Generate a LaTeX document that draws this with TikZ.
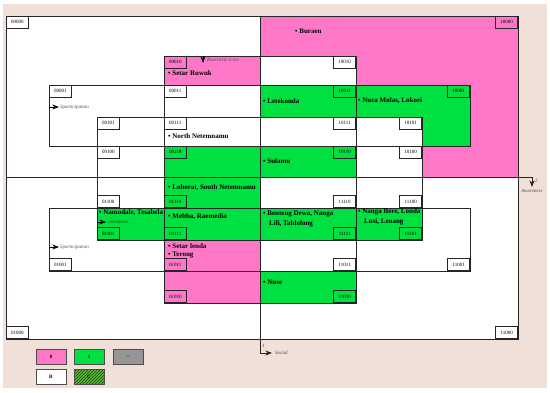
\documentclass[tikz,border=0pt]{standalone}
\usepackage{fontspec}
\setmainfont{Liberation Serif}
\usetikzlibrary{arrows.meta, patterns}
\definecolor{pinkc}{RGB}{255,120,200}
\definecolor{greenc}{RGB}{0,224,64}
\definecolor{olivec}{RGB}{100,175,60}
\definecolor{beigec}{RGB}{240,224,216}
\definecolor{grayc}{RGB}{150,150,150}

\begin{document}
\begin{tikzpicture}[x=1pt, y=-1pt, >=Stealth,
    band/.style={draw=black!85, line width=0.8pt},
    code/.style={draw=black!85, line width=0.6pt, inner sep=0pt, minimum width=22pt, minimum height=12pt, font=\fontsize{5}{6}\selectfont},
    town/.style={anchor=west, inner sep=0pt, font=\fontsize{7}{10}\selectfont\bfseries},
    axislabel/.style={inner sep=0pt, text=black!70, font=\fontsize{5}{6}\selectfont\itshape},
    key/.style={draw=black!70, line width=1pt, minimum width=30pt, minimum height=15pt, inner sep=0pt, font=\fontsize{5}{6}\selectfont\bfseries}]
    % Background and margins
    \useasboundingbox (0,0) rectangle (550,392);
    \fill[white] (0,0) rectangle (550,392);
    \fill[beigec] (3,4) rectangle (547,388);
    \fill[white] (6,16) rectangle (518,339);

    % Fill the coloured cells
    \fill[pinkc] (260,16) rectangle (518,177);
    \fill[greenc] (260,85) rectangle (470,146);
    \fill[white] (260,56) rectangle (356,85);
    \fill[white] (260,117) rectangle (422,146);
    \fill[white] (356,146) rectangle (422,177);
    \fill[greenc] (260,146) rectangle (356,177);
    \fill[pinkc] (164,56) rectangle (260,85);
    \fill[greenc] (164,146) rectangle (260,240);
    \fill[greenc] (97,208) rectangle (164,240);
    \fill[pinkc] (164,240) rectangle (260,303);
    \fill[greenc] (260,208) rectangle (422,240);
    \fill[greenc] (260,271) rectangle (356,303);

    % Draw the quadrants and the bands
    \draw[band] (6,16) rectangle (518,339);
    \draw[band] (164,56) rectangle (356,303);
    \draw[band] (97,117) rectangle (422,240);
    \draw[band] (49,85) rectangle (470,146);
    \draw[band] (49,208) rectangle (470,271);

    % Draw the axes with their arrows
    \coordinate (socA) at (260,16);
    \coordinate (socB) at (260,353);
    \coordinate (socC) at (272,353);
    \draw[band, ->] (socA) -- (socB) -- (socC);
    \node[axislabel, anchor=west] (social) at (275,353) {Social};
    \node[axislabel, anchor=south west] (socnum) at (262,348) {1};
    \coordinate (awaA) at (6,177);
    \coordinate (awaB) at (532,177);
    \coordinate (awaC) at (532,187);
    \draw[band, ->] (awaA) -- (awaB) -- (awaC);
    \node[axislabel, anchor=north] (awareness) at (532,189) {Awareness};
    \node[axislabel, anchor=west] (awanum) at (535,181) {2};

    % Arrows of the other bands
    \coordinate (reaA) at (203,56);
    \coordinate (reaB) at (203,63);
    \draw[thick, ->] (reaA) -- (reaB);
    \node[axislabel, anchor=west] (reactivity) at (207,60) {Reactivity score};
    \coordinate (parA) at (49,107);
    \coordinate (parB) at (59,107);
    \draw[thick, ->] (parA) -- (parB);
    \node[axislabel, anchor=west] (partop) at (60,107) {5participation};
    \coordinate (parC) at (49,247);
    \coordinate (parD) at (59,247);
    \draw[thick, ->] (parC) -- (parD);
    \node[axislabel, anchor=west] (parbot) at (60,247) {5participation};
    \coordinate (resA) at (97,222);
    \coordinate (resB) at (106,222);
    \draw[thick, ->] (resA) -- (resB);
    \node[axislabel, anchor=west, text=green!40!black] (resistance) at (107,222) {Resistance};

    % Code of every cell
    \foreach \c/\x/\y/\a/\f in {
        00000/6/16/north west/white, 00010/164/56/north west/pinkc,
        00001/49/85/north west/white, 00011/164/85/north west/white,
        00101/97/117/north west/white, 00111/164/117/north west/white,
        00100/97/146/north west/white, 00110/164/146/north west/greenc,
        10000/518/16/north east/pinkc, 10010/356/56/north east/white,
        10011/356/85/north east/greenc, 10001/470/85/north east/greenc,
        10111/356/117/north east/white, 10101/422/117/north east/white,
        10110/356/146/north east/greenc, 10100/422/146/north east/white,
        01100/97/208/south west/white, 01110/164/208/south west/greenc,
        01101/97/240/south west/greenc, 01111/164/240/south west/greenc,
        01001/49/271/south west/white, 01011/164/271/south west/pinkc,
        01010/164/303/south west/pinkc, 01000/6/339/south west/white,
        11110/356/208/south east/white, 11100/422/208/south east/white,
        11111/356/240/south east/greenc, 11101/422/240/south east/greenc,
        11011/356/271/south east/white, 11001/470/271/south east/white,
        11010/356/303/south east/greenc, 11000/518/339/south east/white}
        \node[code, fill=\f, anchor=\a] (c\c) at (\x,\y) {\c};

    % Places in the cells
    \node[town] (buraen) at (295,31) {\textbullet~Buraen};
    \node[town] (setarruwuk) at (168,73) {\textbullet~Setar Ruwuk};
    \node[town] (letekonda) at (263,101) {\textbullet~Letekonda};
    \node[town] (nucamolas) at (358,101) {\textbullet~Nuca Molas, Lokori};
    \node[town] (northnet) at (168,136) {\textbullet~North Netemnamu};
    \node[town] (sulamu) at (263,161) {\textbullet~Sulamu};
    \node[town] (loborai) at (168,188) {\textbullet~Loborai, South Netemnamu};
    \node[town] (namodale) at (99,213) {\textbullet~Namodale, Tesabela};
    \node[town] (mebba) at (168,217) {\textbullet~Mebba, Raemedia};
    \node[town, anchor=north west, align=left] (benteng) at (263,211)
        {\textbullet~Benteng Dewa, Nanga\\\hspace*{6pt}Lili, Tablolong};
    \node[town, anchor=north west, align=left] (nangabere) at (358,208)
        {\textbullet~Nanga Bere, Londa\\\hspace*{6pt}Lusi, Lenang};
    \node[town, anchor=north west, align=left] (setarlenda) at (168,243)
        {\textbullet~Setar lenda\\[-2pt]\textbullet~Terong};
    \node[town] (nuse) at (263,282) {\textbullet~Nuse};

    % Legend
    \node[key, fill=pinkc] (key0) at (51,357) {0};
    \node[key, fill=greenc] (key1) at (89,357) {1};
    \node[key, fill=grayc] (keydash) at (128,357) {--};
    \node[key, fill=white] (keyR) at (51,377) {R};
    \node[key, pattern=north east lines, pattern color=green!35!black, preaction={fill=olivec}] (keyC) at (89,377) {C};
\end{tikzpicture}
\end{document}
